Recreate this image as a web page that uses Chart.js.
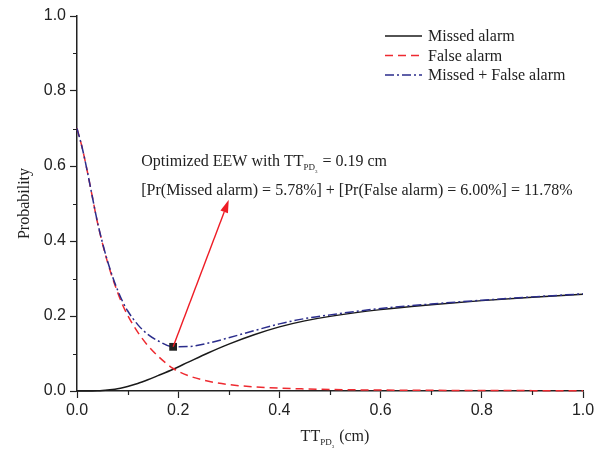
<!DOCTYPE html>
<html>
<head>
<meta charset="utf-8">
<script src="https://cdn.jsdelivr.net/npm/chart.js@4/dist/chart.umd.min.js"></script>
<style>
  html, body { margin: 0; padding: 0; background: #fff; }
</style>
</head>
<body>
<canvas id="probChart" width="603" height="454"></canvas>
<script>
// threshold TT_PD3 (cm)
const tt = [0, 0.01, 0.02, 0.03, 0.04, 0.05, 0.06, 0.07, 0.08, 0.09, 0.10, 0.12, 0.14, 0.16, 0.19,
  0.22, 0.26, 0.30, 0.35, 0.40, 0.45, 0.50, 0.60, 0.70, 0.80, 0.90, 1.00];

const missed = [0, 0, 0, 0.0003, 0.0008, 0.0015, 0.0025, 0.004, 0.006, 0.0085, 0.012, 0.020, 0.030, 0.041, 0.058,
  0.077, 0.102, 0.125, 0.150, 0.171, 0.187, 0.199, 0.217, 0.230, 0.241, 0.250, 0.258];

const falseAlarm = [0.700, 0.650, 0.588, 0.520, 0.452, 0.395, 0.345, 0.302, 0.264, 0.230, 0.202, 0.157, 0.121, 0.093, 0.060,
  0.041, 0.026, 0.017, 0.011, 0.0075, 0.0055, 0.004, 0.0025, 0.0018, 0.0013, 0.001, 0.0008];

const combined = [0.700, 0.650, 0.588, 0.520, 0.453, 0.397, 0.348, 0.306, 0.270, 0.239, 0.214, 0.177, 0.151, 0.134, 0.118,
  0.1185, 0.128, 0.142, 0.161, 0.179, 0.193, 0.203, 0.220, 0.232, 0.242, 0.251, 0.259];

const optimum = { x: 0.19, y: 0.1178 };
const arrowTip = { x: 0.30, y: 0.51 };
const majorTicks = [0, 0.2, 0.4, 0.6, 0.8, 1.0];
const minorTicks = [0.1, 0.3, 0.5, 0.7, 0.9];

const serif = '"Liberation Serif", "Times New Roman", serif';
const sans = '"Liberation Sans", Arial, sans-serif';
const axisColor = '#222';

const pairs = (xs, ys) => xs.map((x, i) => ({ x, y: ys[i] }));

// draws a run of text pieces, each with its own size and baseline shift
function drawPieces(ctx, x, y, pieces) {
  let cx = x;
  pieces.forEach((p) => {
    ctx.font = p.size + 'px ' + serif;
    ctx.fillText(p.t, cx, y + (p.dy || 0));
    cx += ctx.measureText(p.t).width + (p.gap || 0);
  });
  return cx - x;
}

function measurePieces(ctx, pieces) {
  let w = 0;
  pieces.forEach((p) => {
    ctx.font = p.size + 'px ' + serif;
    w += ctx.measureText(p.t).width + (p.gap || 0);
  });
  return w;
}

const minorTickPlugin = {
  id: 'minorTicks',
  afterDraw(chart) {
    const { ctx, scales: { x, y } } = chart;
    ctx.save();
    ctx.strokeStyle = axisColor;
    ctx.lineWidth = 1.2;
    ctx.beginPath();
    minorTicks.forEach((v) => {
      const px = Math.round(x.getPixelForValue(v)) + 0.5;
      ctx.moveTo(px, x.top);
      ctx.lineTo(px, x.top + 4);
      const py = Math.round(y.getPixelForValue(v)) + 0.5;
      ctx.moveTo(y.right, py);
      ctx.lineTo(y.right - 4, py);
    });
    ctx.stroke();
    ctx.restore();
  },
};

const xTitlePlugin = {
  id: 'xTitle',
  afterDraw(chart) {
    const { ctx, scales: { x } } = chart;
    const pieces = [
      { t: 'TT', size: 16 },
      { t: 'PD', size: 9, dy: 4 },
      { t: '3', size: 5, dy: 7, gap: 1 },
      { t: ' (cm)', size: 16 },
    ];
    ctx.save();
    ctx.fillStyle = axisColor;
    ctx.textBaseline = 'alphabetic';
    ctx.textAlign = 'left';
    const w = measurePieces(ctx, pieces);
    drawPieces(ctx, (x.left + x.right) / 2 - w / 2 + 5, x.bottom - 13, pieces);
    ctx.restore();
  },
};

const legendPlugin = {
  id: 'lineLegend',
  afterDraw(chart) {
    const { ctx, chartArea } = chart;
    const x0 = chartArea.right - 198;
    ctx.save();
    chart.data.datasets.filter((d) => d.inLegend).forEach((d, i) => {
      const cy = chartArea.top + 20 + i * 19.5;
      ctx.strokeStyle = d.borderColor;
      ctx.lineWidth = 1.5;
      ctx.setLineDash(d.borderDash || []);
      ctx.beginPath();
      ctx.moveTo(x0, cy);
      ctx.lineTo(x0 + 37, cy);
      ctx.stroke();
      ctx.setLineDash([]);
      ctx.fillStyle = axisColor;
      ctx.font = '16px ' + serif;
      ctx.textBaseline = 'middle';
      ctx.fillText(d.label, x0 + 43, cy + 1);
    });
    ctx.restore();
  },
};

const notePlugin = {
  id: 'optimumNote',
  afterDatasetsDraw(chart) {
    const { ctx, scales: { x, y } } = chart;
    const sx = x.getPixelForValue(optimum.x);
    const sy = y.getPixelForValue(optimum.y);
    const ex = x.getPixelForValue(arrowTip.x);
    const ey = y.getPixelForValue(arrowTip.y);
    const ang = Math.atan2(ey - sy, ex - sx);
    const head = 13, half = 4;
    ctx.save();
    ctx.strokeStyle = '#ee1c25';
    ctx.fillStyle = '#ee1c25';
    ctx.lineWidth = 1.4;
    ctx.beginPath();
    ctx.moveTo(sx, sy);
    ctx.lineTo(ex - head * Math.cos(ang), ey - head * Math.sin(ang));
    ctx.stroke();
    ctx.beginPath();
    ctx.moveTo(ex, ey);
    ctx.lineTo(ex - head * Math.cos(ang) + half * Math.sin(ang), ey - head * Math.sin(ang) - half * Math.cos(ang));
    ctx.lineTo(ex - head * Math.cos(ang) - half * Math.sin(ang), ey - head * Math.sin(ang) + half * Math.cos(ang));
    ctx.closePath();
    ctx.fill();

    // text block above the arrow
    ctx.fillStyle = axisColor;
    ctx.textBaseline = 'alphabetic';
    ctx.textAlign = 'left';
    const tx = x.getPixelForValue(0.127);
    drawPieces(ctx, tx, y.getPixelForValue(0.6), [
      { t: 'Optimized EEW with TT', size: 16 },
      { t: 'PD', size: 9, dy: 4 },
      { t: '3', size: 5, dy: 7, gap: 1 },
      { t: ' = 0.19 cm', size: 16 },
    ]);
    ctx.font = '16px ' + serif;
    ctx.fillText('[Pr(Missed alarm) = 5.78%] + [Pr(False alarm) = 6.00%] = 11.78%', tx, y.getPixelForValue(0.523));
    ctx.restore();
  },
};

const axisCommon = {
  type: 'linear',
  min: 0,
  max: 1,
  border: { color: axisColor, width: 1.5 },
  grid: { drawOnChartArea: false, drawTicks: true, tickLength: 7, tickColor: axisColor, tickWidth: 1.2 },
  afterBuildTicks: (scale) => { scale.ticks = majorTicks.map((value) => ({ value })); },
};

new Chart(document.getElementById('probChart'), {
  type: 'line',
  data: {
    datasets: [
      {
        label: 'optimum',
        data: [optimum],
        showLine: false,
        pointStyle: 'rect',
        pointRadius: 5.5,
        backgroundColor: '#222',
        borderColor: '#222',
        borderWidth: 0,
        order: 0,
      },
      {
        label: 'Missed alarm',
        inLegend: true,
        data: pairs(tt, missed),
        borderColor: '#1a1a1a',
        borderWidth: 1.5,
        pointRadius: 0,
        cubicInterpolationMode: 'monotone',
        clip: 4,
        order: 3,
      },
      {
        label: 'False alarm',
        inLegend: true,
        data: pairs(tt, falseAlarm),
        borderColor: '#ee2a30',
        borderDash: [8, 5],
        borderWidth: 1.5,
        pointRadius: 0,
        cubicInterpolationMode: 'monotone',
        clip: 4,
        order: 2,
      },
      {
        label: 'Missed + False alarm',
        inLegend: true,
        data: pairs(tt, combined),
        borderColor: '#2b2d8c',
        borderDash: [9, 3, 2, 3],
        borderWidth: 1.5,
        pointRadius: 0,
        cubicInterpolationMode: 'monotone',
        clip: 4,
        order: 1,
      },
    ],
  },
  options: {
    responsive: false,
    devicePixelRatio: 1,
    animation: false,
    layout: { padding: { top: 16, right: 20, left: 0, bottom: 0 } },
    plugins: { legend: { display: false }, tooltip: { enabled: false } },
    scales: {
      x: {
        ...axisCommon,
        position: 'bottom',
        ticks: { font: { family: sans, size: 16 }, color: axisColor, padding: 3, maxRotation: 0,
          callback: (v) => v.toFixed(1) },
        afterFit: (scale) => { scale.height = 63; },
      },
      y: {
        ...axisCommon,
        position: 'left',
        ticks: { font: { family: sans, size: 16 }, color: axisColor, padding: 4,
          callback: (v) => v.toFixed(1) },
        title: { display: true, text: 'Probability', font: { family: serif, size: 16 }, color: axisColor,
          padding: { top: 15, bottom: 0 } },
        afterFit: (scale) => { scale.width = 77; },
      },
    },
  },
  plugins: [minorTickPlugin, xTitlePlugin, legendPlugin, notePlugin],
});
</script>
</body>
</html>
